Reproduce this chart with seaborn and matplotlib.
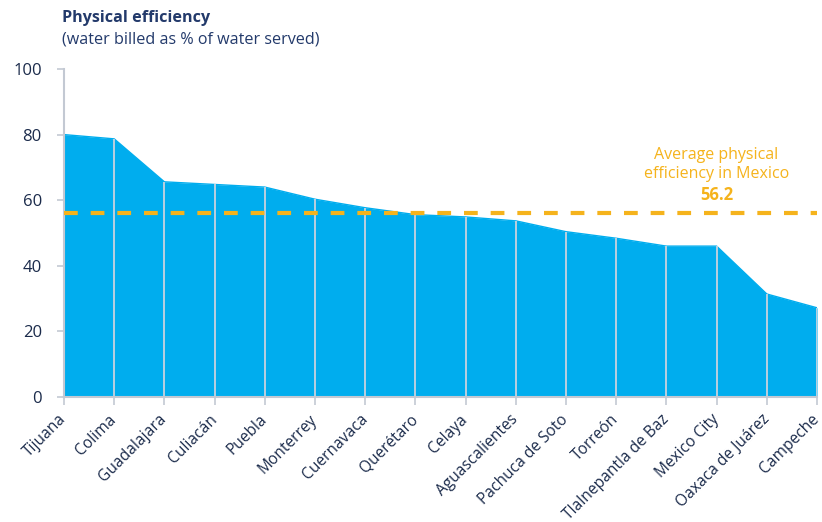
import matplotlib
matplotlib.use("Agg")
import matplotlib.pyplot as plt
import numpy as np
import pandas as pd
import seaborn as sns

cities = ['Tijuana', 'Colima', 'Guadalajara', 'Culiacán', 'Puebla', 'Monterrey',
          'Cuernavaca', 'Querétaro', 'Celaya', 'Aguascalientes', 'Pachuca de Soto',
          'Torreón', 'Tlalnepantla de Baz', 'Mexico City', 'Oaxaca de Juárez', 'Campeche']
efficiency = [80.0, 78.7, 65.6, 64.8, 64.0, 60.3, 57.7, 55.6, 54.9, 53.7, 50.4,
              48.4, 46.0, 46.0, 31.4, 27.2]
national_avg = 56.2

df = pd.DataFrame({'pos': np.arange(len(cities)), 'city': cities, 'eff': efficiency})

sns.set_style("ticks")
plt.rcParams['font.family'] = ['Open Sans', 'DejaVu Sans']

navy = '#1b2b4b'
title_col = '#233a6b'
blue = '#00adee'
orange = '#f5b31c'
axis_col = '#c3c9d3'

fig = plt.figure(figsize=(8.22, 5.22), dpi=100)
ax = fig.add_axes([64 / 822, (522 - 397) / 522, (817 - 64) / 822, (397 - 69) / 522])

sns.lineplot(data=df, x='pos', y='eff', color=blue, linewidth=1, ax=ax)
ax.fill_between(df['pos'], 0, df['eff'], color=blue, linewidth=0, zorder=1)
ax.vlines(df['pos'], 0, df['eff'], color='#c9d2de', linewidth=1.3, zorder=2)
ax.axhline(national_avg, color=orange, linewidth=3, linestyle=(0, (3.3, 3.1)), zorder=3)

ax.set_xlim(0, len(cities) - 1)
ax.set_ylim(0, 100)
ax.set_yticks([0, 20, 40, 60, 80, 100])
ax.set_xticks(df['pos'])
ax.set_xticklabels(cities, rotation=45, ha='right', va='center', rotation_mode='anchor')
ax.tick_params(axis='both', colors=axis_col, labelcolor=navy, width=1.2)
ax.tick_params(axis='y', length=5, pad=11, labelsize=12)
ax.tick_params(axis='x', length=5.5, pad=9, labelsize=11.2)
ax.set_xlabel('')
ax.set_ylabel('')
sns.despine(ax=ax, top=True, right=True)
for s in ['left', 'bottom']:
    ax.spines[s].set_color(axis_col)
    ax.spines[s].set_linewidth(1.5)

fig.text(62 / 822, 1 - 18 / 522, 'Physical efficiency', fontsize=11.6, fontweight='bold',
         color=title_col, va='center', ha='left')
fig.text(62 / 822, 1 - 40 / 522, '(water billed as % of water served)', fontsize=11.6,
         color=title_col, va='center', ha='left')

ax.text(13.0, 70.9, 'Average physical\nefficiency in Mexico', fontsize=11.5, color=orange,
        ha='center', va='center', linespacing=1.25)
ax.text(13.0, 61.5, f'{national_avg}', fontsize=12, color=orange, fontweight='bold',
        ha='center', va='center')

fig.savefig('out.png', dpi=100)
